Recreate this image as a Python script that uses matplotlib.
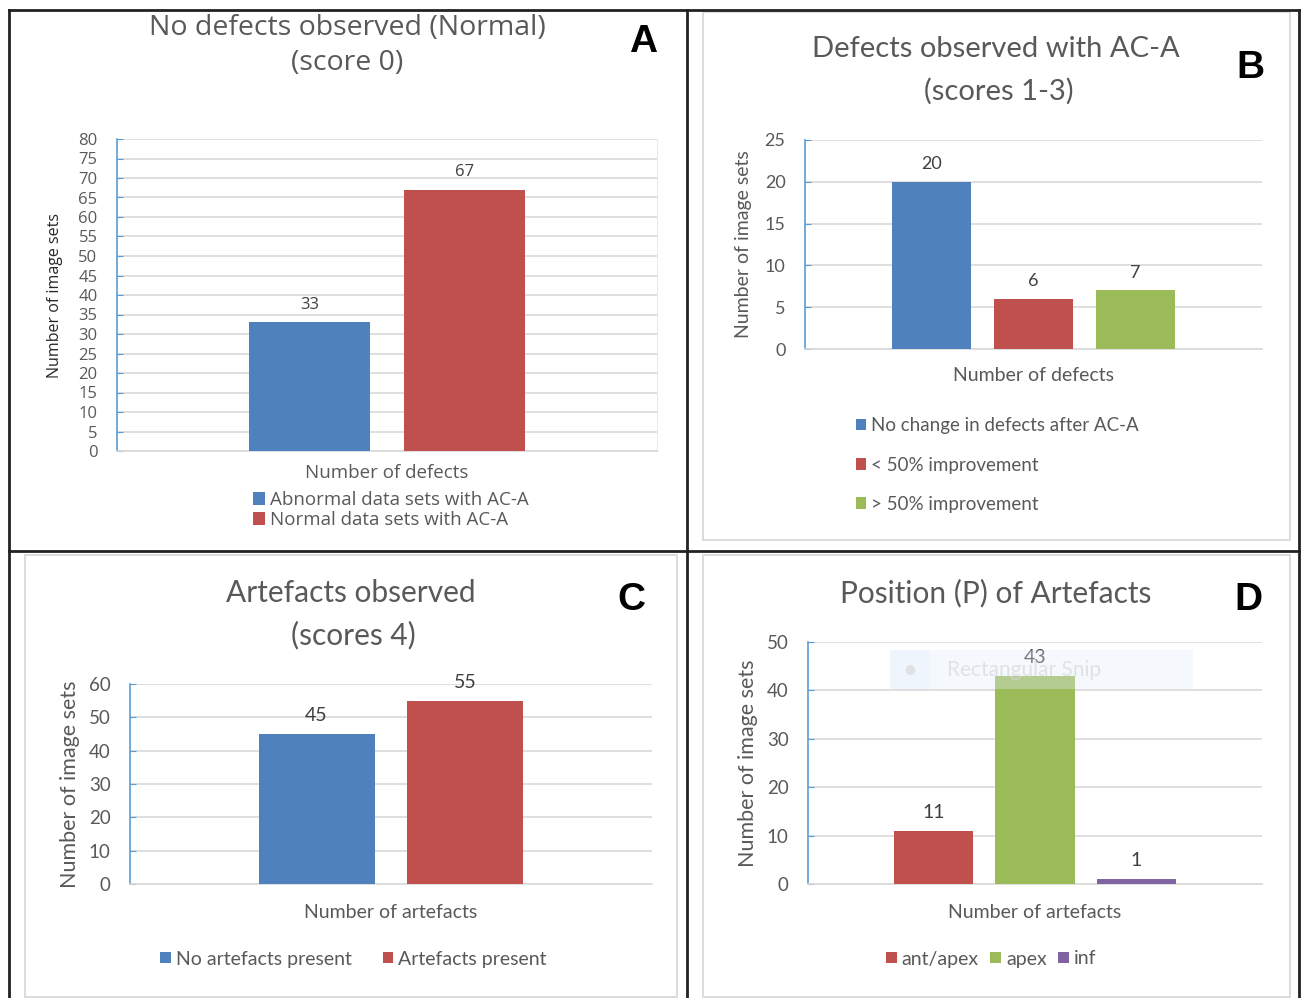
import matplotlib
matplotlib.use('Agg')
import matplotlib.pyplot as plt
from matplotlib.lines import Line2D
from matplotlib.patches import Rectangle

# Panel A: data sets with no defects (score 0)
a_labels = ['Abnormal data sets with AC-A', 'Normal data sets with AC-A']
a_values = [33, 67]

# Panel B: defects observed with AC-A (scores 1-3)
b_labels = ['No change in defects after AC-A', '< 50% improvement', '> 50% improvement']
b_values = [20, 6, 7]

# Panel C: artefacts observed (score 4)
c_labels = ['No artefacts present', 'Artefacts present']
c_values = [45, 55]

# Panel D: position of artefacts
d_labels = ['ant/apex', 'apex', 'inf']
d_values = [11, 43, 1]

BLUE = '#4f81bd'
RED = '#c0504d'
GREEN = '#9bbb59'
PURPLE = '#8064a2'
GREY_TXT = '#595959'
GRID = '#d9d9d9'
AXIS_BLUE = '#5b9bd5'

W, H = 1301, 998
fig = plt.figure(figsize=(W / 100, H / 100), dpi=100)
fig.patch.set_facecolor('white')


def fx(x):
    return x / W


def fy(y):
    return 1 - y / H


def px_axes(left, top, right, bottom):
    return fig.add_axes([fx(left), fy(bottom), fx(right - left), (bottom - top) / H])


def bar_panel(ax, values, colors, width, step, ymax, ystep, font, tick_size,
              ylabel, xlabel, ylabel_x, xlabel_y, label_size, ylabel_size, value_size):
    n = len(values)
    xs = [0.5 + (i - (n - 1) / 2) * step for i in range(n)]
    bars = ax.bar(xs, values, width=width, color=colors, zorder=3)
    for b, v in zip(bars, values):
        ax.annotate(str(v), (b.get_x() + b.get_width() / 2, v), xytext=(0, 7),
                    textcoords='offset points', ha='center', va='bottom',
                    fontsize=value_size, color='#404040', family=font)
    ax.set_xlim(0, 1)
    ax.set_ylim(0, ymax)
    ax.set_yticks(range(0, ymax + 1, ystep))
    ax.set_xticks([])
    ax.yaxis.grid(True, color=GRID, lw=1.2, zorder=0)
    ax.set_axisbelow(True)
    for s in ['top', 'right']:
        ax.spines[s].set_visible(False)
    ax.spines['left'].set_color(AXIS_BLUE)
    ax.spines['left'].set_linewidth(1.2)
    ax.spines['bottom'].set_color(GRID)
    ax.spines['bottom'].set_linewidth(1.2)
    ax.tick_params(axis='y', direction='in', length=4, color=AXIS_BLUE,
                   labelcolor=GREY_TXT, labelsize=tick_size, pad=14)
    for t in ax.get_yticklabels():
        t.set_family(font)
    pos = ax.get_position()
    fig.text(fx(ylabel_x), 0.5 * (pos.y0 + pos.y1), ylabel,
             rotation=90, ha='center', va='center', fontsize=ylabel_size,
             color='#262626' if font == 'Open Sans' else GREY_TXT, family=font)
    fig.text((pos.x0 + pos.x1) / 2, fy(xlabel_y), xlabel, ha='center', va='center',
             fontsize=label_size, color=GREY_TXT, family=font)
    return bars


# ---- Panel A ----
axA = px_axes(117, 139, 657, 451)
barsA = bar_panel(axA, a_values, [BLUE, RED], 121 / 540, 155 / 540, 80, 5,
                  'Open Sans', 12, 'Number of image sets', 'Number of defects',
                  55, 473, 13.5, 11.5, 12)
axA.spines['right'].set_visible(True)
axA.spines['right'].set_color('#ebebeb')
fig.text(fx(347), fy(28), 'No defects observed (Normal)', ha='center', va='center',
         fontsize=20.5, color=GREY_TXT, family='Open Sans')
fig.text(fx(347), fy(63), '(score 0)', ha='center', va='center',
         fontsize=20.5, color=GREY_TXT, family='Open Sans')
fig.text(fx(643), fy(42), 'A', ha='center', va='center', fontsize=28,
         fontweight='bold', family='Liberation Sans')
fig.legend(barsA, a_labels, loc='center left', bbox_to_anchor=(fx(253), fy(510)),
           frameon=False, borderpad=0, borderaxespad=0, handlelength=0.65,
           handleheight=0.65, handletextpad=0.25, labelspacing=0.1,
           prop={'family': 'Open Sans', 'size': 13.5}, labelcolor=GREY_TXT)

# ---- Panel B ----
axB = px_axes(805, 140, 1262, 349)
barsB = bar_panel(axB, b_values, [BLUE, RED, GREEN], 79 / 457, 102 / 457, 25, 5,
                  'Lato', 13, 'Number of image sets', 'Number of defects',
                  744, 376, 14, 14, 13)
fig.text(fx(996), fy(49), 'Defects observed with AC-A', ha='center', va='center',
         fontsize=21, color=GREY_TXT, family='Lato')
fig.text(fx(999), fy(91), '(scores 1-3)', ha='center', va='center',
         fontsize=21, color=GREY_TXT, family='Lato')
fig.text(fx(1250), fy(68), 'B', ha='center', va='center', fontsize=28,
         fontweight='bold', family='Liberation Sans')
fig.legend(barsB, b_labels, loc='center left', bbox_to_anchor=(fx(856), fy(465)),
           frameon=False, borderpad=0, borderaxespad=0, handlelength=0.55,
           handleheight=0.55, handletextpad=0.25, labelspacing=1.18,
           prop={'family': 'Lato', 'size': 13.5}, labelcolor=GREY_TXT)

# ---- Panel C ----
axC = px_axes(130, 684, 652, 884)
barsC = bar_panel(axC, c_values, [BLUE, RED], 116 / 522, 149 / 522, 60, 10,
                  'Lato', 13.5, 'Number of image sets', 'Number of artefacts',
                  70, 912, 14, 15.5, 14)
fig.text(fx(351), fy(593), 'Artefacts observed', ha='center', va='center',
         fontsize=21.5, color=GREY_TXT, family='Lato')
fig.text(fx(353), fy(635), '(scores 4)', ha='center', va='center',
         fontsize=21.5, color=GREY_TXT, family='Lato')
fig.text(fx(631), fy(600), 'C', ha='center', va='center', fontsize=28,
         fontweight='bold', family='Liberation Sans')
fig.legend(barsC, c_labels, loc='center left', bbox_to_anchor=(fx(160), fy(959)),
           ncol=2, frameon=False, borderpad=0, borderaxespad=0, handlelength=0.55,
           handleheight=0.55, handletextpad=0.25, columnspacing=1.6,
           prop={'family': 'Lato', 'size': 14}, labelcolor=GREY_TXT)

# ---- Panel D ----
axD = px_axes(808, 642, 1262, 884)
barsD = bar_panel(axD, d_values, [RED, GREEN, PURPLE], 79 / 454, 101.5 / 454, 50, 10,
                  'Lato', 13.5, 'Number of image sets', 'Number of artefacts',
                  748, 912, 14, 15.5, 14)
fig.text(fx(996), fy(593), 'Position (P) of Artefacts', ha='center', va='center',
         fontsize=21.5, color=GREY_TXT, family='Lato')
fig.text(fx(1248), fy(600), 'D', ha='center', va='center', fontsize=28,
         fontweight='bold', family='Liberation Sans')
fig.legend(barsD, d_labels, loc='center left', bbox_to_anchor=(fx(886), fy(959)),
           ncol=3, frameon=False, borderpad=0, borderaxespad=0, handlelength=0.55,
           handleheight=0.55, handletextpad=0.25, columnspacing=0.6,
           prop={'family': 'Lato', 'size': 14}, labelcolor=GREY_TXT)

# faint snipping-tool tooltip over panel D
fig.patches.append(Rectangle((fx(890), fy(689)), fx(303), 39 / H, transform=fig.transFigure,
                             facecolor='#e3eefb', alpha=0.35, edgecolor='none', zorder=10))
fig.patches.append(Rectangle((fx(890), fy(689)), fx(40), 39 / H, transform=fig.transFigure,
                             facecolor='#e3eefb', alpha=0.3, edgecolor='none', zorder=10))
fig.text(fx(910), fy(669), '\u25cf', ha='center', va='center', fontsize=9,
         color='#dddddd', alpha=0.8, zorder=11)
fig.text(fx(947), fy(670), 'Rectangular Snip', ha='left', va='center', fontsize=15,
         color='#d8d8d8', alpha=0.7, family='Lato', zorder=11)

# light inner frames around panels B, C and D
for (l, t, r, b) in [(703, 12, 1290, 540), (25, 555, 677, 997), (703, 555, 1290, 997)]:
    fig.patches.append(Rectangle((fx(l), fy(b)), fx(r - l), (b - t) / H,
                                 transform=fig.transFigure, facecolor='none',
                                 edgecolor='#d9d9d9', lw=1.3, zorder=1))

# dark grid separating the four panels
dark = '#222222'
for xs, ys in [([9, 1299], [10, 10]), ([9, 9], [10, 998]), ([1299, 1299], [10, 998]),
               ([687, 687], [10, 998]), ([9, 1299], [551, 551])]:
    fig.lines.append(Line2D([fx(x) for x in xs], [fy(y) for y in ys],
                            transform=fig.transFigure, color=dark, lw=2.0, zorder=20))

fig.savefig('out.png', dpi=100)
